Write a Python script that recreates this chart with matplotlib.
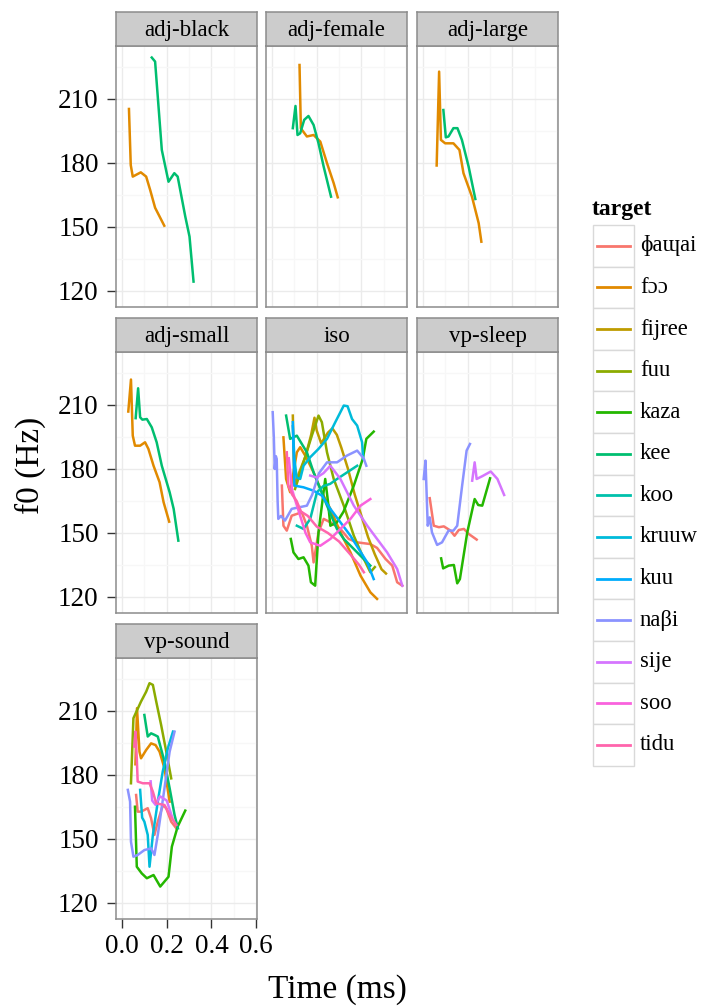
import matplotlib
matplotlib.use("Agg")
import matplotlib.pyplot as plt
from matplotlib.patches import Rectangle

plt.rcParams['font.family'] = ['Liberation Serif', 'DejaVu Serif']

# legend order and ggplot hue colours
targets = ["ɸaɰai", "fɔɔ", "fijree", "fuu", "kaza", "kee", "koo",
           "kruuw", "kuu", "naβi", "sije", "soo", "tidu"]
colors = ["#F8766D", "#E18A00", "#BE9C00", "#8CAB00", "#24B700", "#00BE70", "#00C1AB",
          "#00BBDA", "#00ACFC", "#8B93FF", "#D575FE", "#F962DD", "#FF65AC"]

# f0 tracks per panel: target -> (time, f0)
adj_black = {
    "fɔɔ": ([0.031, 0.039, 0.048, 0.084, 0.108, 0.126, 0.148, 0.189],
            [205.3, 179, 173.6, 175.6, 173.6, 167.3, 159, 150.6]),
    "kee": ([0.133, 0.148, 0.178, 0.208, 0.234, 0.249, 0.283, 0.302, 0.320],
            [229.4, 227.5, 186.1, 171.2, 175.2, 173.6, 154.9, 145.5, 124.4]),
}
adj_female = {
    "fɔɔ": ([0.123, 0.129, 0.156, 0.186, 0.216, 0.246, 0.276, 0.294],
            [225.9, 196.2, 192.4, 193.1, 190, 179.9, 170.5, 163.9]),
    "kee": ([0.093, 0.105, 0.114, 0.126, 0.144, 0.163, 0.186, 0.208, 0.231, 0.264],
            [196.3, 206.7, 193.1, 193.9, 200.2, 202, 197.8, 189.2, 178.3, 164.2]),
}
adj_large = {
    "fɔɔ": ([0.061, 0.072, 0.080, 0.099, 0.136, 0.163, 0.181, 0.219, 0.249, 0.261],
            [178.8, 222.8, 190.8, 189.2, 189.2, 186.1, 175.2, 164.2, 151.8, 143.1]),
    "kee": ([0.091, 0.102, 0.114, 0.136, 0.154, 0.174, 0.204, 0.234],
            [204.8, 192.0, 192.4, 196.3, 196.3, 190.8, 178.3, 163.1]),
}
adj_small = {
    "fɔɔ": ([0.028, 0.040, 0.048, 0.058, 0.081, 0.103, 0.118, 0.141, 0.168, 0.186, 0.211],
            [206.9, 221.9, 195.6, 190.9, 190.9, 192.5, 189.4, 181.5, 173.8, 164.4, 155.3]),
    "kee": ([0.061, 0.072, 0.081, 0.091, 0.111, 0.133, 0.155, 0.178, 0.213, 0.231, 0.252],
            [203.8, 217.8, 204.2, 203.1, 203.4, 199.5, 192.5, 181.5, 169.1, 161.3, 146.4]),
}
iso = {
    "naβi": ([0.003, 0.008, 0.012, 0.017, 0.021, 0.025, 0.028, 0.04, 0.058, 0.088, 0.12,
              0.156, 0.18, 0.21, 0.246, 0.291, 0.336, 0.381, 0.41, 0.422],
             [206.6, 195, 180, 186, 184.7, 165, 156.6, 158, 155.8, 161.3, 162,
              162.8, 168, 178, 183.1, 183.1, 186.3, 188.6, 185, 181.5]),
    "ɸaɰai": ([0.044, 0.051, 0.066, 0.088, 0.133, 0.156, 0.178, 0.186, 0.208, 0.231,
               0.261, 0.306, 0.343, 0.381, 0.44, 0.47, 0.508, 0.538, 0.56, 0.583],
              [172.2, 153.4, 151.1, 158.1, 159.7, 153.4, 144, 136.2, 150.3, 156.6,
               155, 151.9, 147.2, 145.6, 144.8, 143, 137.8, 134.7, 126.9, 125.3]),
    "fɔɔ": ([0.051, 0.063, 0.081, 0.111, 0.126, 0.15, 0.186, 0.223, 0.261, 0.306,
             0.351, 0.396, 0.44, 0.47],
            [194.8, 175.3, 169.1, 187.8, 190.2, 186, 178.4, 169.1, 161.3, 150.3,
             140.9, 130, 122.2, 119.1]),
    "fijree": ([0.093, 0.097, 0.101, 0.12, 0.15, 0.175, 0.19, 0.2, 0.22, 0.25, 0.27,
                0.29, 0.31, 0.34, 0.37, 0.40, 0.43, 0.46, 0.49, 0.51],
               [205, 185, 172, 178, 186, 196, 204, 198, 192, 197, 199,
                196, 190, 180, 168, 158, 148, 140, 133, 131]),
    "fuu": ([0.103, 0.141, 0.178, 0.208, 0.223, 0.246, 0.276, 0.321, 0.366, 0.411, 0.44, 0.46],
            [170.6, 183.1, 195.6, 205, 201.9, 187.8, 175.3, 162.8, 148.7, 137.8, 131.6, 134]),
    "kaza": ([0.084, 0.096, 0.118, 0.141, 0.163, 0.174, 0.193, 0.208, 0.238, 0.25, 0.261,
              0.29, 0.32, 0.366, 0.406, 0.422, 0.455],
             [147.2, 140.9, 137.8, 138.6, 134.7, 126.9, 125.3, 150.3, 175.3, 165, 153.4,
              155, 160, 172.2, 184.7, 194.1, 197.5]),
    "kee": ([0.063, 0.081, 0.111, 0.156, 0.186, 0.246, 0.29, 0.321, 0.381, 0.44],
            [205, 194.1, 195.6, 187.8, 178.4, 162.8, 152, 147.2, 140.9, 134.7]),
    "koo": ([0.111, 0.141, 0.171, 0.201, 0.23, 0.26, 0.291, 0.336, 0.381],
            [153.4, 151.9, 156.6, 169.1, 172, 173, 175.3, 178.4, 181.5]),
    "kruuw": ([0.093, 0.1, 0.11, 0.126, 0.141, 0.171, 0.208, 0.246, 0.283, 0.321, 0.338,
               0.358, 0.381, 0.403, 0.408],
              [200, 185, 176, 175.3, 181.5, 185.5, 189.4, 194.1, 201.9, 209.7, 209.4,
               203.4, 200.3, 192.5, 184.7]),
    "kuu": ([0.093, 0.1, 0.141, 0.186, 0.223, 0.261, 0.306, 0.351, 0.388, 0.426, 0.455],
            [201.9, 172.2, 171.4, 169.8, 167.5, 161.3, 155, 148.7, 142.5, 136.2, 128.4]),
    "sije": ([0.171, 0.2, 0.23, 0.261, 0.306, 0.366, 0.426, 0.47, 0.515, 0.56, 0.583],
             [176.9, 176, 178, 181.5, 175.3, 162.8, 153.4, 147.2, 140.9, 133.1, 125.3]),
    "soo": ([0.075, 0.09, 0.12, 0.15, 0.171, 0.216, 0.261, 0.306, 0.351, 0.396, 0.44],
            [185, 170, 160, 150, 145.6, 144, 147.2, 151.9, 156.6, 162.8, 165.9]),
    "tidu": ([0.066, 0.073, 0.09, 0.11, 0.13, 0.16, 0.2, 0.25, 0.3, 0.35, 0.39, 0.411],
             [187.8, 172.2, 168, 165, 160, 158, 153, 150, 146, 140, 135, 131.6]),
}
vp_sleep = {
    "naβi": ([0.003, 0.011, 0.021, 0.030, 0.040, 0.063, 0.085, 0.114, 0.136, 0.153,
              0.175, 0.195, 0.210],
             [175.3, 183.9, 153.4, 157.3, 150.3, 144.4, 145.6, 151.1, 151.1, 153.4,
              172.2, 188.6, 191.7]),
    "ɸaɰai": ([0.030, 0.048, 0.071, 0.093, 0.123, 0.141, 0.160, 0.183, 0.205, 0.240],
              [166.3, 153.4, 152.7, 153.1, 151.1, 148.7, 151.4, 151.9, 149.5, 146.9]),
    "kaza": ([0.081, 0.090, 0.115, 0.138, 0.153, 0.165, 0.198, 0.231, 0.247, 0.265, 0.300],
             [138.1, 133.4, 134.7, 135, 126.4, 128.4, 150.3, 165.9, 163.1, 162.8, 175.6]),
    "sije": ([0.220, 0.231, 0.240, 0.265, 0.303, 0.333, 0.363],
             [174.5, 183.1, 175.3, 176.6, 178.8, 175.3, 167.8]),
}
vp_sound = {
    "fuu": ([0.040, 0.051, 0.085, 0.108, 0.123, 0.138, 0.153, 0.175, 0.198, 0.220],
            [176.1, 206.6, 214.4, 219, 223, 222.2, 214.4, 203.4, 190.9, 178.4]),
    "fɔɔ": ([0.060, 0.067, 0.078, 0.085, 0.108, 0.130, 0.150, 0.168, 0.190, 0.213],
            [185, 211.3, 190.9, 187.8, 191.7, 194.8, 194, 190.9, 183.1, 167.5]),
    "kee": ([0.100, 0.115, 0.130, 0.145, 0.160, 0.190, 0.213, 0.235, 0.250],
            [208.1, 198, 199.5, 198.8, 198, 186.2, 173.8, 161.3, 155]),
    "kruuw": ([0.081, 0.090, 0.100, 0.115, 0.123, 0.138, 0.160, 0.182, 0.205, 0.228],
              [173, 160, 158.1, 151.9, 137, 151.9, 167.5, 181.5, 192.5, 200.3]),
    "naβi": ([0.026, 0.036, 0.040, 0.051, 0.070, 0.100, 0.130, 0.145, 0.160, 0.190,
              0.213, 0.235],
             [173, 167.5, 148.7, 141.7, 142.5, 144.8, 145.6, 142.5, 151.9, 173.8,
              190.9, 200.3]),
    "tidu": ([0.055, 0.060, 0.066, 0.070, 0.093, 0.123, 0.138, 0.153, 0.190, 0.213, 0.243],
             [193.3, 200.3, 187.8, 176.9, 176.1, 176.1, 172.2, 166.7, 165.9, 161.3, 156.6]),
    "sije": ([0.128, 0.135, 0.150, 0.170, 0.200, 0.225],
             [177, 168, 166, 170, 168, 160]),
    "ɸaɰai": ([0.063, 0.070, 0.085, 0.115, 0.130, 0.145, 0.160, 0.183, 0.198, 0.220, 0.243],
              [170.6, 162.8, 162.8, 164.4, 159.7, 151.9, 158.1, 165.9, 164.4, 158.1, 155]),
    "kaza": ([0.058, 0.066, 0.088, 0.111, 0.141, 0.171, 0.208, 0.223, 0.249, 0.283],
             [165.1, 137, 133.9, 131.6, 133.1, 127.7, 132.3, 146.4, 155.8, 163.3]),
}

panels = [("adj-black", adj_black), ("adj-female", adj_female), ("adj-large", adj_large),
          ("adj-small", adj_small), ("iso", iso), ("vp-sleep", vp_sleep),
          ("vp-sound", vp_sound)]

y_ticks = [120, 150, 180, 210]
x_ticks = [0.0, 0.2, 0.4, 0.6]

W, H = 701, 1007
fig = plt.figure(figsize=(W / 100, H / 100), dpi=100)


def rect(left, top, w, h):
    return [left / W, 1 - (top + h) / H, w / W, h / H]


col_left = [116, 266, 417]
row_top = [46, 352, 658]
pw, ph, sh = 141, 261, 34
color_of = dict(zip(targets, colors))

for i, (name, tracks) in enumerate(panels):
    r, c = divmod(i, 3)
    ax = fig.add_axes(rect(col_left[c], row_top[r], pw, ph))
    ax.set_xlim(-0.027, 0.604)
    ax.set_ylim(112.5, 234.8)
    for t in targets:
        if t in tracks:
            xs, ys = tracks[t]
            ax.plot(xs, ys, color=color_of[t], lw=1.8, solid_joinstyle='round')
    ax.set_xticks(x_ticks)
    ax.set_xticks([0.1, 0.3, 0.5], minor=True)
    ax.set_yticks(y_ticks)
    ax.set_yticks([135, 165, 195, 225], minor=True)
    ax.grid(True, which='major', color='#EBEBEB', lw=1.0)
    ax.grid(True, which='minor', color='#F7F7F7', lw=0.9)
    ax.set_axisbelow(True)
    for s in ax.spines.values():
        s.set_color('#8C8C8C')
        s.set_linewidth(1.1)
    ax.tick_params(which='minor', length=0)
    ax.tick_params(which='major', length=6.5, width=1, color='#333333',
                   labelsize=19.5)
    ax.tick_params(axis='y', pad=6)
    ax.tick_params(axis='x', pad=4)
    if c != 0:
        ax.tick_params(axis='y', which='major', length=0, labelleft=False)
    if name != "vp-sound":
        ax.tick_params(axis='x', which='major', length=0, labelbottom=False)
    # strip
    sax = fig.add_axes(rect(col_left[c], row_top[r] - sh, pw, sh))
    sax.set_facecolor('#CCCCCC')
    sax.set_xticks([])
    sax.set_yticks([])
    for s in sax.spines.values():
        s.set_color('#8C8C8C')
        s.set_linewidth(1.1)
    sax.text(0.5, 0.47, name, ha='center', va='center', fontsize=16.5,
             transform=sax.transAxes)

fig.text(337 / W, 1 - 990 / H, "Time (ms)", ha='center', va='center', fontsize=24)
fig.text(30 / W, 1 - 465 / H, "f0 (Hz)", ha='center', va='center', fontsize=24,
         rotation=90)

# legend, in pixel coordinates
lax = fig.add_axes(rect(585, 195, 116, 580))
lax.set_xlim(585, 701)
lax.set_ylim(775, 195)
lax.axis('off')
lax.text(592, 209, "target", ha='left', va='center', fontsize=17, fontweight='bold')
key_top, key_h = 225, 41.6
for k, (t, col) in enumerate(zip(targets, colors)):
    y0 = key_top + k * key_h
    lax.add_patch(Rectangle((593, y0), 41, key_h, facecolor='white',
                            edgecolor='#D9D9D9', lw=1.0))
    lax.plot([597, 630], [y0 + key_h / 2] * 2, color=col, lw=2)
    lax.text(640, y0 + key_h / 2, t, ha='left', va='center', fontsize=16.3)

fig.savefig("out.png", dpi=100)
